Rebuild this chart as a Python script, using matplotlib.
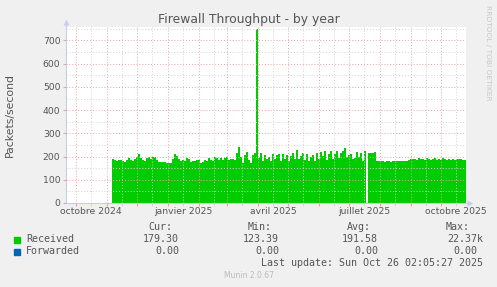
import numpy as np
import pandas as pd
import matplotlib
matplotlib.use("Agg")
import matplotlib.pyplot as plt
import matplotlib.dates as mdates
from matplotlib.ticker import FuncFormatter, NullFormatter, MultipleLocator

nan = np.nan

# one sample every 2 days, starting at first_day
first_day = "2024-11-07"
received = [
    190, 184, 179, 186, 187, 182, 177, 186, 193, 185,
    181, 191, 196, 210, 194, 184, 180, 192, 198, 189,
    200, 196, 186, 176, 175, 175, 176, 174, 173, 174,
    190, 213, 204, 190, 183, 184, 179, 195, 188, 177,
    183, 180, 187, 186, 172, 178, 186, 181, 193, 187,
    183, 197, 192, 186, 194, 185, 192, 198, 186, 190,
    188, 186, 215, 243, 200, 172, 207, 221, 185, 172,
    205, 214, 750, 195, 214, 182, 205, 188, 196, 180,
    213, 190, 205, 209, 182, 212, 190, 205, 182, 203,
    214, 190, 228, 188, 202, 215, 186, 213, 180, 198,
    205, 181, 214, 190, 220, 204, 225, 185, 212, 224,
    188, 210, 226, 192, 214, 226, 238, 200, 205, 212,
    190, 195, 221, 200, 215, 180, 222, nan, 217, 217,
    217, 218, 183, 180, 179, 181, 178, 179, 180, 178,
    180, 181, 179, 180, 182, 181, 180, 182, 186, 190,
    188, 191, 186, 192, 188, 190, 186, 192, 189, 186,
    190, 193, 187, 189, 186, 193, 188, 185, 191, 187,
    189, 186, 190, 189, 188, 186, 185,
]

x_start, x_end = "2024-09-21", "2025-10-26"
y_max = 758
y_ticks = [0, 100, 200, 300, 400, 500, 600, 700]
label_months = ["2024-10", "2025-01", "2025-04", "2025-07", "2025-10"]
label_texts = ["octobre 2024", "janvier 2025", "avril 2025", "juillet 2025", "octobre 2025"]

title = "Firewall Throughput - by year"
y_title = "Packets/second"
series_names = ["Received", "Forwarded"]
stat_headers = ["Cur:", "Min:", "Avg:", "Max:"]
stats_received = ["179.30", "123.39", "191.58", "22.37k"]
stats_forwarded = ["0.00", "0.00", "0.00", "0.00"]
last_update = "Last update: Sun Oct 26 02:05:27 2025"
footer = "Munin 2.0.67"
watermark = "RRDTOOL / TOBI OETIKER"

GREEN = "#00CC00"
BLUE = "#0066B3"
TEXT = "#555555"
AXIS = "#c6cdf0"
W, H = 497, 287

plt.rcParams["font.family"] = "DejaVu Sans"


def fx(px):
    return px / W


def fy(py):
    return 1 - py / H


fig = plt.figure(figsize=(W / 100, H / 100), dpi=100, facecolor="#F0F0F0")
ax = fig.add_axes([fx(66), fy(203), 400 / W, 176 / H], facecolor="white")

vals = np.array(received, dtype=float)
dates = pd.date_range(first_day, periods=len(vals), freq="2D")
ok = ~np.isnan(vals)
ax.bar(dates[ok], vals[ok], width=2.1, color=GREEN, linewidth=0, zorder=1)

ax.set_xlim(pd.Timestamp(x_start), pd.Timestamp(x_end))
ax.set_ylim(0, y_max)

labels_by_month = dict(zip(label_months, label_texts))


def month_label(x, pos):
    return labels_by_month.get(mdates.num2date(x).strftime("%Y-%m"), "")


ax.xaxis.set_major_locator(mdates.MonthLocator())
ax.xaxis.set_major_formatter(NullFormatter())
ax.xaxis.set_minor_locator(mdates.MonthLocator(bymonthday=16))
ax.xaxis.set_minor_formatter(FuncFormatter(month_label))
ax.set_yticks(y_ticks)
ax.yaxis.set_minor_locator(MultipleLocator(50))

ax.set_axisbelow(False)
ax.grid(which="major", color="#e8a4a4", linestyle=(0, (1, 2)), linewidth=0.7)
ax.grid(which="minor", color="#d2d2d2", linestyle=(0, (1, 2)), linewidth=0.7)

ax.tick_params(axis="both", which="both", labelsize=6.7, labelcolor=TEXT)
ax.tick_params(axis="x", which="major", length=2, color="#e8a4a4", pad=1)
ax.tick_params(axis="x", which="minor", length=2, color="#d2d2d2", pad=1)
ax.tick_params(axis="y", which="major", length=2, color="#e8a4a4", pad=2)
ax.tick_params(axis="y", which="minor", length=0)

for side in ["top", "right"]:
    ax.spines[side].set_visible(False)
for side in ["left", "bottom"]:
    ax.spines[side].set_color(AXIS)
    ax.spines[side].set_linewidth(0.8)

# axis arrows
ax.plot([0, 0], [1, 1.03], color=AXIS, lw=0.8, transform=ax.transAxes, clip_on=False)
ax.plot([1, 1.01], [0, 0], color=AXIS, lw=0.8, transform=ax.transAxes, clip_on=False)
ax.plot([0], [1.03], marker="^", ms=4, color=AXIS, mec="none",
        transform=ax.transAxes, clip_on=False)
ax.plot([1.01], [0], marker=">", ms=4, color=AXIS, mec="none",
        transform=ax.transAxes, clip_on=False)

fig.text(0.5, fy(19), title, ha="center", va="center", fontsize=8.9, color=TEXT)
fig.text(fx(10), fy(115), y_title, rotation=90, ha="center", va="center",
         fontsize=7.8, color=TEXT)
fig.text(fx(488), fy(53), watermark, rotation=270, ha="center", va="center",
         fontsize=5.4, color="#c8c8c8")

mono = dict(family="DejaVu Sans Mono", fontsize=7.2, color=TEXT, va="center")
header_right = [172, 272, 371, 470]
value_right = [179, 279, 378, 477]
for hdr, xr in zip(stat_headers, header_right):
    fig.text(fx(xr), fy(227), hdr, ha="right", **mono)

rows = [(stats_received, 239.5), (stats_forwarded, 251.5)]
for (name, color), (stats, yrow) in zip(zip(series_names, [GREEN, BLUE]), rows):
    fig.patches.append(plt.Rectangle((fx(14), fy(yrow + 3)), 6 / W, 6 / H,
                                     transform=fig.transFigure, color=color))
    fig.text(fx(26), fy(yrow), name, ha="left", **mono)
    for s, xr in zip(stats, value_right):
        # a unit suffix (k, M) takes the place of the trailing blank
        if s[-1].isalpha():
            xr += 6
        fig.text(fx(xr), fy(yrow), s, ha="right", **mono)

fig.text(fx(483), fy(263.5), last_update, ha="right", **mono)
fig.text(0.5, fy(276), footer, ha="center", va="center", fontsize=5.5, color="#bbbbbb")

fig.savefig("out.png", dpi=100, facecolor=fig.get_facecolor())
